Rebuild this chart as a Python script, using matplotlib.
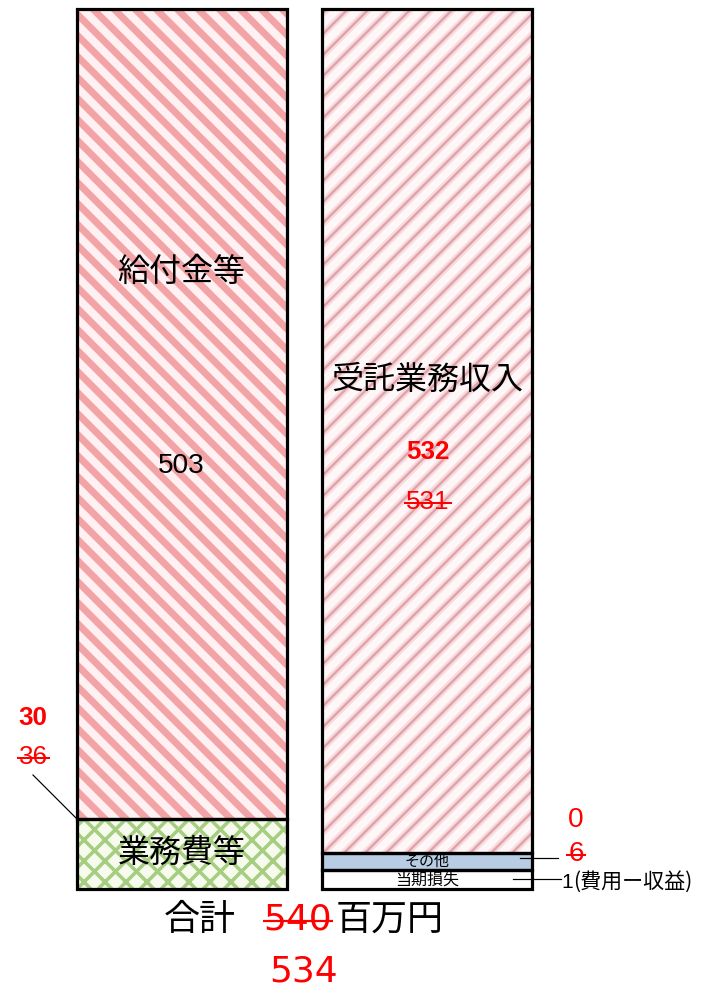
import matplotlib
matplotlib.use("Agg")
import matplotlib.pyplot as plt
import numpy as np

# ======================================================================
# Data (schematic heights are read off the picture, in pixel units)
# ======================================================================
left_labels = ["給付金等", "業務費等"]
left_values = [503, 30]
left_old = [None, 36]
left_heights = [810, 70]

right_labels = ["受託業務収入", "その他", "当期損失"]
right_values = [532, 0, 1]
right_old = [531, 6, None]
right_heights = [844, 17, 19]
loss_note = "(費用ー収益)"

total_old = 540
total_new = 534
total_label = "合計"
unit_label = "百万円"

# ======================================================================
# Layout / style
# ======================================================================
W, H = 702, 989
DPI = 126                       # hatch spacing ~21 px like the original
BAR_TOP = 9
LEFT_X, RIGHT_X, BAR_W = 181.5, 427, 210
RED = "#FF0000"
CJK = ["Noto Sans CJK JP", "DejaVu Sans"]
NUM = ["Liberation Sans", "DejaVu Sans"]


def pt(px):
    return px * 72.0 / DPI


fig = plt.figure(figsize=(W / DPI, H / DPI), dpi=DPI)
ax = fig.add_axes([0, 0, 1, 1])
ax.set_xlim(0, W)
ax.set_ylim(H, 0)
ax.axis("off")


def segment(x, bottom, height, face, hatch=None, hcolor=None, hlw=None, layers=()):
    bars = ax.bar(x, height, bottom=bottom, width=BAR_W, color=face,
                  edgecolor=hcolor if hatch else "none", linewidth=0,
                  hatch=hatch, zorder=1)
    for b in bars:
        if hatch and hasattr(b, "set_hatch_linewidth"):
            b.set_hatch_linewidth(hlw)
    for hc, lw in layers:
        extra = ax.bar(x, height, bottom=bottom, width=BAR_W, color="none",
                       edgecolor=hc, linewidth=0, hatch=hatch, zorder=2)
        for b in extra:
            if hasattr(b, "set_hatch_linewidth"):
                b.set_hatch_linewidth(lw)
    ax.bar(x, height, bottom=bottom, width=BAR_W, fill=False,
           edgecolor="black", linewidth=pt(3.2), zorder=3)


# ---- left bar: 給付金等 / 業務費等 ----
lb = BAR_TOP + np.concatenate([[0], np.cumsum(left_heights)[:-1]])
segment(LEFT_X, lb[0], left_heights[0], "#FFF0F2", "\\\\", "#F2A3A5", pt(7))
segment(LEFT_X, lb[1], left_heights[1], "#F6FBEE", "xx", "#A6CD80", pt(3.5))

# ---- right bar: 受託業務収入 / その他 / 当期損失 ----
rb = BAR_TOP + np.concatenate([[0], np.cumsum(right_heights)[:-1]])
segment(RIGHT_X, rb[0], right_heights[0], "#FFF7F7", "//", "#F7DCDF", pt(7),
        layers=[("#E2A3AA", pt(2.5))])
segment(RIGHT_X, rb[1], right_heights[1], "#B8CCE4")
segment(RIGHT_X, rb[2], right_heights[2], "white")

fig.canvas.draw()
renderer = fig.canvas.get_renderer()


def strike(t, color=RED, lw=2.0, pad=2):
    bb = t.get_window_extent(renderer=renderer)
    inv = ax.transData.inverted()
    (x0, y0), (x1, y1) = inv.transform([[bb.x0, bb.y0], [bb.x1, bb.y1]])
    ym = (y0 + y1) / 2 + 1
    ax.plot([x0 - pad, x1 + pad], [ym, ym], color=color, lw=pt(lw), zorder=6,
            solid_capstyle="butt")


def label(x, y, s, px, color="black", family=CJK, weight="normal", ha="center"):
    return ax.text(x, y, s, fontsize=pt(px), color=color, family=family,
                   weight=weight, ha=ha, va="center", zorder=5)


# ---- left bar texts ----
label(LEFT_X, 272, left_labels[0], 32)
label(LEFT_X, 466, str(left_values[0]), 28, family=NUM)
label(LEFT_X, 853, left_labels[1], 32)
label(33, 718, str(left_values[1]), 26, RED, NUM, "bold")
t36 = label(33, 757, str(left_old[1]), 26, RED, NUM)
strike(t36)
ax.plot([33, 76], [775, 818], color="black", lw=pt(1.2), zorder=6)

# ---- right bar texts ----
label(RIGHT_X, 380, right_labels[0], 32)
label(428, 452, str(right_values[0]), 26, RED, NUM, "bold")
t531 = label(428, 502, str(right_old[0]), 26, RED, NUM)
strike(t531)
label(RIGHT_X, 862, right_labels[1], 15)
label(RIGHT_X, 880, right_labels[2], 16)

label(576, 820, str(right_values[1]), 28, RED, NUM)
t6 = label(576, 854, str(right_old[1]), 28, RED, NUM)
strike(t6)
ax.plot([520, 558], [858, 858], color="black", lw=pt(1.2), zorder=6)
ax.plot([513, 561], [879, 879], color="black", lw=pt(1.2), zorder=6)
label(561, 882, str(right_values[2]), 21, family=NUM, ha="left")
label(573, 882, loss_note, 21, ha="left")

# ---- total ----
label(200, 920, total_label, 36)
t540 = label(298, 920, str(total_old), 36, RED, ["DejaVu Sans"])
strike(t540, lw=2.2, pad=1)
label(390, 920, unit_label, 36)
label(304, 971, str(total_new), 36, RED, ["DejaVu Sans"])

fig.savefig("out.png", dpi=DPI)
